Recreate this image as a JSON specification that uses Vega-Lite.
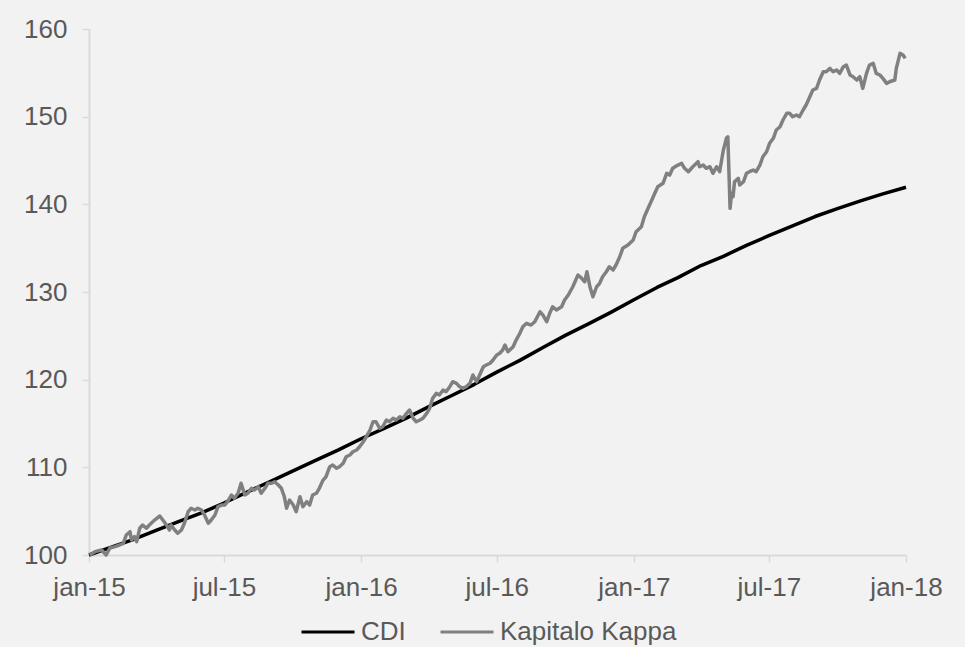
{
  "$schema": "https://vega.github.io/schema/vega-lite/v6.json",
  "autosize": {"type": "none"},
  "padding": {"left": 89, "top": 29, "right": 59, "bottom": 92},
  "width": 817,
  "height": 526,
  "background": "#f2f2f2",
  "config": {
    "view": {"stroke": null},
    "axis": {
      "grid": false,
      "domainColor": "#d9d9d9",
      "domainWidth": 2,
      "tickColor": "#d9d9d9",
      "tickWidth": 1.5,
      "tickSize": 7,
      "labelColor": "#595959",
      "labelFont": "Liberation Sans",
      "labelFontSize": 26,
      "title": null
    },
    "legend": {
      "labelColor": "#595959",
      "labelFont": "Liberation Sans",
      "labelFontSize": 26,
      "labelLimit": 400
    }
  },
  "data": {
    "values": [
      {"date": "2015-01-01", "series": "CDI", "value": 100.00},
      {"date": "2015-02-01", "series": "CDI", "value": 100.93},
      {"date": "2015-03-01", "series": "CDI", "value": 101.76},
      {"date": "2015-04-01", "series": "CDI", "value": 102.82},
      {"date": "2015-05-01", "series": "CDI", "value": 103.80},
      {"date": "2015-06-01", "series": "CDI", "value": 104.81},
      {"date": "2015-07-01", "series": "CDI", "value": 105.93},
      {"date": "2015-08-01", "series": "CDI", "value": 107.18},
      {"date": "2015-09-01", "series": "CDI", "value": 108.37},
      {"date": "2015-10-01", "series": "CDI", "value": 109.57},
      {"date": "2015-11-01", "series": "CDI", "value": 110.79},
      {"date": "2015-12-01", "series": "CDI", "value": 111.96},
      {"date": "2016-01-01", "series": "CDI", "value": 113.26},
      {"date": "2016-02-01", "series": "CDI", "value": 114.45},
      {"date": "2016-03-01", "series": "CDI", "value": 115.59},
      {"date": "2016-04-01", "series": "CDI", "value": 116.93},
      {"date": "2016-05-01", "series": "CDI", "value": 118.16},
      {"date": "2016-06-01", "series": "CDI", "value": 119.47},
      {"date": "2016-07-01", "series": "CDI", "value": 120.86},
      {"date": "2016-08-01", "series": "CDI", "value": 122.20},
      {"date": "2016-09-01", "series": "CDI", "value": 123.68},
      {"date": "2016-10-01", "series": "CDI", "value": 125.05},
      {"date": "2016-11-01", "series": "CDI", "value": 126.36},
      {"date": "2016-12-01", "series": "CDI", "value": 127.68},
      {"date": "2017-01-01", "series": "CDI", "value": 129.11},
      {"date": "2017-02-01", "series": "CDI", "value": 130.52},
      {"date": "2017-03-01", "series": "CDI", "value": 131.64},
      {"date": "2017-04-01", "series": "CDI", "value": 133.02},
      {"date": "2017-05-01", "series": "CDI", "value": 134.07},
      {"date": "2017-06-01", "series": "CDI", "value": 135.32},
      {"date": "2017-07-01", "series": "CDI", "value": 136.42},
      {"date": "2017-08-01", "series": "CDI", "value": 137.51},
      {"date": "2017-09-01", "series": "CDI", "value": 138.61},
      {"date": "2017-10-01", "series": "CDI", "value": 139.50},
      {"date": "2017-11-01", "series": "CDI", "value": 140.39},
      {"date": "2017-12-01", "series": "CDI", "value": 141.19},
      {"date": "2018-01-01", "series": "CDI", "value": 141.95},
      {"date": "2015-01-02", "series": "Kapitalo Kappa", "value": 100.00},
      {"date": "2015-01-09", "series": "Kapitalo Kappa", "value": 100.38},
      {"date": "2015-01-18", "series": "Kapitalo Kappa", "value": 100.57},
      {"date": "2015-01-24", "series": "Kapitalo Kappa", "value": 100.00},
      {"date": "2015-01-29", "series": "Kapitalo Kappa", "value": 100.80},
      {"date": "2015-02-05", "series": "Kapitalo Kappa", "value": 100.95},
      {"date": "2015-02-11", "series": "Kapitalo Kappa", "value": 101.14},
      {"date": "2015-02-16", "series": "Kapitalo Kappa", "value": 101.33},
      {"date": "2015-02-20", "series": "Kapitalo Kappa", "value": 102.28},
      {"date": "2015-02-25", "series": "Kapitalo Kappa", "value": 102.66},
      {"date": "2015-02-27", "series": "Kapitalo Kappa", "value": 101.71},
      {"date": "2015-03-03", "series": "Kapitalo Kappa", "value": 102.09},
      {"date": "2015-03-06", "series": "Kapitalo Kappa", "value": 101.52},
      {"date": "2015-03-10", "series": "Kapitalo Kappa", "value": 103.05},
      {"date": "2015-03-14", "series": "Kapitalo Kappa", "value": 103.42},
      {"date": "2015-03-19", "series": "Kapitalo Kappa", "value": 103.05},
      {"date": "2015-03-23", "series": "Kapitalo Kappa", "value": 103.42},
      {"date": "2015-03-30", "series": "Kapitalo Kappa", "value": 103.99},
      {"date": "2015-04-06", "series": "Kapitalo Kappa", "value": 104.45},
      {"date": "2015-04-10", "series": "Kapitalo Kappa", "value": 103.99},
      {"date": "2015-04-15", "series": "Kapitalo Kappa", "value": 103.42},
      {"date": "2015-04-19", "series": "Kapitalo Kappa", "value": 102.85},
      {"date": "2015-04-21", "series": "Kapitalo Kappa", "value": 103.42},
      {"date": "2015-04-26", "series": "Kapitalo Kappa", "value": 102.85},
      {"date": "2015-04-30", "series": "Kapitalo Kappa", "value": 102.48},
      {"date": "2015-05-05", "series": "Kapitalo Kappa", "value": 102.85},
      {"date": "2015-05-09", "series": "Kapitalo Kappa", "value": 103.62},
      {"date": "2015-05-14", "series": "Kapitalo Kappa", "value": 104.94},
      {"date": "2015-05-18", "series": "Kapitalo Kappa", "value": 105.33},
      {"date": "2015-05-23", "series": "Kapitalo Kappa", "value": 105.13},
      {"date": "2015-05-27", "series": "Kapitalo Kappa", "value": 105.33},
      {"date": "2015-06-01", "series": "Kapitalo Kappa", "value": 105.13},
      {"date": "2015-06-05", "series": "Kapitalo Kappa", "value": 104.56},
      {"date": "2015-06-10", "series": "Kapitalo Kappa", "value": 103.62},
      {"date": "2015-06-14", "series": "Kapitalo Kappa", "value": 103.99},
      {"date": "2015-06-19", "series": "Kapitalo Kappa", "value": 104.56},
      {"date": "2015-06-23", "series": "Kapitalo Kappa", "value": 105.51},
      {"date": "2015-06-28", "series": "Kapitalo Kappa", "value": 105.70},
      {"date": "2015-07-02", "series": "Kapitalo Kappa", "value": 105.70},
      {"date": "2015-07-06", "series": "Kapitalo Kappa", "value": 106.08},
      {"date": "2015-07-11", "series": "Kapitalo Kappa", "value": 106.84},
      {"date": "2015-07-15", "series": "Kapitalo Kappa", "value": 106.47},
      {"date": "2015-07-20", "series": "Kapitalo Kappa", "value": 107.04},
      {"date": "2015-07-24", "series": "Kapitalo Kappa", "value": 108.18},
      {"date": "2015-07-29", "series": "Kapitalo Kappa", "value": 106.84},
      {"date": "2015-08-02", "series": "Kapitalo Kappa", "value": 107.04},
      {"date": "2015-08-07", "series": "Kapitalo Kappa", "value": 107.61},
      {"date": "2015-08-11", "series": "Kapitalo Kappa", "value": 107.41},
      {"date": "2015-08-16", "series": "Kapitalo Kappa", "value": 107.79},
      {"date": "2015-08-20", "series": "Kapitalo Kappa", "value": 107.04},
      {"date": "2015-08-25", "series": "Kapitalo Kappa", "value": 107.61},
      {"date": "2015-08-29", "series": "Kapitalo Kappa", "value": 108.18},
      {"date": "2015-09-03", "series": "Kapitalo Kappa", "value": 108.18},
      {"date": "2015-09-07", "series": "Kapitalo Kappa", "value": 108.36},
      {"date": "2015-09-12", "series": "Kapitalo Kappa", "value": 107.98},
      {"date": "2015-09-16", "series": "Kapitalo Kappa", "value": 107.61},
      {"date": "2015-09-20", "series": "Kapitalo Kappa", "value": 106.65},
      {"date": "2015-09-23", "series": "Kapitalo Kappa", "value": 105.33},
      {"date": "2015-09-27", "series": "Kapitalo Kappa", "value": 106.27},
      {"date": "2015-10-02", "series": "Kapitalo Kappa", "value": 105.70},
      {"date": "2015-10-06", "series": "Kapitalo Kappa", "value": 104.94},
      {"date": "2015-10-11", "series": "Kapitalo Kappa", "value": 106.65},
      {"date": "2015-10-15", "series": "Kapitalo Kappa", "value": 105.51},
      {"date": "2015-10-20", "series": "Kapitalo Kappa", "value": 106.08},
      {"date": "2015-10-24", "series": "Kapitalo Kappa", "value": 105.70},
      {"date": "2015-10-28", "series": "Kapitalo Kappa", "value": 106.84},
      {"date": "2015-11-02", "series": "Kapitalo Kappa", "value": 107.04},
      {"date": "2015-11-06", "series": "Kapitalo Kappa", "value": 107.61},
      {"date": "2015-11-11", "series": "Kapitalo Kappa", "value": 108.55},
      {"date": "2015-11-15", "series": "Kapitalo Kappa", "value": 108.93},
      {"date": "2015-11-20", "series": "Kapitalo Kappa", "value": 110.07},
      {"date": "2015-11-24", "series": "Kapitalo Kappa", "value": 110.27},
      {"date": "2015-11-29", "series": "Kapitalo Kappa", "value": 109.89},
      {"date": "2015-12-03", "series": "Kapitalo Kappa", "value": 110.07},
      {"date": "2015-12-08", "series": "Kapitalo Kappa", "value": 110.46},
      {"date": "2015-12-12", "series": "Kapitalo Kappa", "value": 111.21},
      {"date": "2015-12-17", "series": "Kapitalo Kappa", "value": 111.41},
      {"date": "2015-12-21", "series": "Kapitalo Kappa", "value": 111.78},
      {"date": "2015-12-26", "series": "Kapitalo Kappa", "value": 111.98},
      {"date": "2015-12-30", "series": "Kapitalo Kappa", "value": 112.35},
      {"date": "2016-01-04", "series": "Kapitalo Kappa", "value": 112.92},
      {"date": "2016-01-08", "series": "Kapitalo Kappa", "value": 113.49},
      {"date": "2016-01-13", "series": "Kapitalo Kappa", "value": 114.26},
      {"date": "2016-01-17", "series": "Kapitalo Kappa", "value": 115.20},
      {"date": "2016-01-21", "series": "Kapitalo Kappa", "value": 115.20},
      {"date": "2016-01-26", "series": "Kapitalo Kappa", "value": 114.45},
      {"date": "2016-01-30", "series": "Kapitalo Kappa", "value": 114.63},
      {"date": "2016-02-04", "series": "Kapitalo Kappa", "value": 115.40},
      {"date": "2016-02-08", "series": "Kapitalo Kappa", "value": 115.20},
      {"date": "2016-02-13", "series": "Kapitalo Kappa", "value": 115.59},
      {"date": "2016-02-17", "series": "Kapitalo Kappa", "value": 115.40},
      {"date": "2016-02-22", "series": "Kapitalo Kappa", "value": 115.77},
      {"date": "2016-02-26", "series": "Kapitalo Kappa", "value": 115.59},
      {"date": "2016-03-02", "series": "Kapitalo Kappa", "value": 116.16},
      {"date": "2016-03-06", "series": "Kapitalo Kappa", "value": 116.54},
      {"date": "2016-03-11", "series": "Kapitalo Kappa", "value": 115.59},
      {"date": "2016-03-15", "series": "Kapitalo Kappa", "value": 115.20},
      {"date": "2016-03-20", "series": "Kapitalo Kappa", "value": 115.40},
      {"date": "2016-03-24", "series": "Kapitalo Kappa", "value": 115.59},
      {"date": "2016-03-29", "series": "Kapitalo Kappa", "value": 116.16},
      {"date": "2016-04-02", "series": "Kapitalo Kappa", "value": 116.73},
      {"date": "2016-04-06", "series": "Kapitalo Kappa", "value": 117.87},
      {"date": "2016-04-11", "series": "Kapitalo Kappa", "value": 118.44},
      {"date": "2016-04-15", "series": "Kapitalo Kappa", "value": 118.25},
      {"date": "2016-04-20", "series": "Kapitalo Kappa", "value": 118.82},
      {"date": "2016-04-24", "series": "Kapitalo Kappa", "value": 118.63},
      {"date": "2016-04-29", "series": "Kapitalo Kappa", "value": 119.20},
      {"date": "2016-05-03", "series": "Kapitalo Kappa", "value": 119.77},
      {"date": "2016-05-08", "series": "Kapitalo Kappa", "value": 119.58},
      {"date": "2016-05-12", "series": "Kapitalo Kappa", "value": 119.20},
      {"date": "2016-05-17", "series": "Kapitalo Kappa", "value": 119.01},
      {"date": "2016-05-21", "series": "Kapitalo Kappa", "value": 119.20},
      {"date": "2016-05-26", "series": "Kapitalo Kappa", "value": 119.58},
      {"date": "2016-05-30", "series": "Kapitalo Kappa", "value": 120.53},
      {"date": "2016-06-04", "series": "Kapitalo Kappa", "value": 119.77},
      {"date": "2016-06-08", "series": "Kapitalo Kappa", "value": 120.53},
      {"date": "2016-06-13", "series": "Kapitalo Kappa", "value": 121.48},
      {"date": "2016-06-17", "series": "Kapitalo Kappa", "value": 121.67},
      {"date": "2016-06-22", "series": "Kapitalo Kappa", "value": 121.87},
      {"date": "2016-06-26", "series": "Kapitalo Kappa", "value": 122.24},
      {"date": "2016-07-01", "series": "Kapitalo Kappa", "value": 122.81},
      {"date": "2016-07-05", "series": "Kapitalo Kappa", "value": 123.01},
      {"date": "2016-07-09", "series": "Kapitalo Kappa", "value": 123.38},
      {"date": "2016-07-12", "series": "Kapitalo Kappa", "value": 123.95},
      {"date": "2016-07-16", "series": "Kapitalo Kappa", "value": 123.19},
      {"date": "2016-07-23", "series": "Kapitalo Kappa", "value": 123.76},
      {"date": "2016-07-27", "series": "Kapitalo Kappa", "value": 124.52},
      {"date": "2016-08-01", "series": "Kapitalo Kappa", "value": 125.29},
      {"date": "2016-08-05", "series": "Kapitalo Kappa", "value": 126.04},
      {"date": "2016-08-10", "series": "Kapitalo Kappa", "value": 126.43},
      {"date": "2016-08-16", "series": "Kapitalo Kappa", "value": 126.23},
      {"date": "2016-08-21", "series": "Kapitalo Kappa", "value": 126.61},
      {"date": "2016-08-28", "series": "Kapitalo Kappa", "value": 127.75},
      {"date": "2016-09-01", "series": "Kapitalo Kappa", "value": 127.37},
      {"date": "2016-09-06", "series": "Kapitalo Kappa", "value": 126.61},
      {"date": "2016-09-10", "series": "Kapitalo Kappa", "value": 127.57},
      {"date": "2016-09-14", "series": "Kapitalo Kappa", "value": 128.32},
      {"date": "2016-09-19", "series": "Kapitalo Kappa", "value": 127.94},
      {"date": "2016-09-26", "series": "Kapitalo Kappa", "value": 128.32},
      {"date": "2016-09-30", "series": "Kapitalo Kappa", "value": 129.09},
      {"date": "2016-10-05", "series": "Kapitalo Kappa", "value": 129.66},
      {"date": "2016-10-11", "series": "Kapitalo Kappa", "value": 130.60},
      {"date": "2016-10-18", "series": "Kapitalo Kappa", "value": 131.94},
      {"date": "2016-10-23", "series": "Kapitalo Kappa", "value": 131.56},
      {"date": "2016-10-27", "series": "Kapitalo Kappa", "value": 131.17},
      {"date": "2016-10-30", "series": "Kapitalo Kappa", "value": 132.31},
      {"date": "2016-11-03", "series": "Kapitalo Kappa", "value": 130.60},
      {"date": "2016-11-07", "series": "Kapitalo Kappa", "value": 129.46},
      {"date": "2016-11-12", "series": "Kapitalo Kappa", "value": 130.60},
      {"date": "2016-11-16", "series": "Kapitalo Kappa", "value": 130.99},
      {"date": "2016-11-20", "series": "Kapitalo Kappa", "value": 131.74},
      {"date": "2016-11-25", "series": "Kapitalo Kappa", "value": 132.31},
      {"date": "2016-11-29", "series": "Kapitalo Kappa", "value": 132.88},
      {"date": "2016-12-04", "series": "Kapitalo Kappa", "value": 132.51},
      {"date": "2016-12-08", "series": "Kapitalo Kappa", "value": 133.08},
      {"date": "2016-12-13", "series": "Kapitalo Kappa", "value": 134.02},
      {"date": "2016-12-17", "series": "Kapitalo Kappa", "value": 134.98},
      {"date": "2016-12-24", "series": "Kapitalo Kappa", "value": 135.36},
      {"date": "2016-12-31", "series": "Kapitalo Kappa", "value": 135.93},
      {"date": "2017-01-04", "series": "Kapitalo Kappa", "value": 136.88},
      {"date": "2017-01-11", "series": "Kapitalo Kappa", "value": 137.45},
      {"date": "2017-01-15", "series": "Kapitalo Kappa", "value": 138.59},
      {"date": "2017-01-20", "series": "Kapitalo Kappa", "value": 139.55},
      {"date": "2017-01-24", "series": "Kapitalo Kappa", "value": 140.30},
      {"date": "2017-01-29", "series": "Kapitalo Kappa", "value": 141.26},
      {"date": "2017-02-02", "series": "Kapitalo Kappa", "value": 142.01},
      {"date": "2017-02-09", "series": "Kapitalo Kappa", "value": 142.40},
      {"date": "2017-02-14", "series": "Kapitalo Kappa", "value": 143.54},
      {"date": "2017-02-18", "series": "Kapitalo Kappa", "value": 143.34},
      {"date": "2017-02-22", "series": "Kapitalo Kappa", "value": 144.11},
      {"date": "2017-03-01", "series": "Kapitalo Kappa", "value": 144.48},
      {"date": "2017-03-06", "series": "Kapitalo Kappa", "value": 144.68},
      {"date": "2017-03-10", "series": "Kapitalo Kappa", "value": 144.11},
      {"date": "2017-03-15", "series": "Kapitalo Kappa", "value": 143.72},
      {"date": "2017-03-21", "series": "Kapitalo Kappa", "value": 144.29},
      {"date": "2017-03-28", "series": "Kapitalo Kappa", "value": 144.86},
      {"date": "2017-03-30", "series": "Kapitalo Kappa", "value": 144.29},
      {"date": "2017-04-04", "series": "Kapitalo Kappa", "value": 144.48},
      {"date": "2017-04-08", "series": "Kapitalo Kappa", "value": 144.11},
      {"date": "2017-04-13", "series": "Kapitalo Kappa", "value": 144.29},
      {"date": "2017-04-17", "series": "Kapitalo Kappa", "value": 143.54},
      {"date": "2017-04-22", "series": "Kapitalo Kappa", "value": 144.29},
      {"date": "2017-04-26", "series": "Kapitalo Kappa", "value": 143.72},
      {"date": "2017-05-01", "series": "Kapitalo Kappa", "value": 146.19},
      {"date": "2017-05-05", "series": "Kapitalo Kappa", "value": 147.53},
      {"date": "2017-05-07", "series": "Kapitalo Kappa", "value": 147.71},
      {"date": "2017-05-10", "series": "Kapitalo Kappa", "value": 139.54},
      {"date": "2017-05-12", "series": "Kapitalo Kappa", "value": 141.26},
      {"date": "2017-05-14", "series": "Kapitalo Kappa", "value": 140.87},
      {"date": "2017-05-16", "series": "Kapitalo Kappa", "value": 142.58},
      {"date": "2017-05-21", "series": "Kapitalo Kappa", "value": 142.97},
      {"date": "2017-05-23", "series": "Kapitalo Kappa", "value": 142.20},
      {"date": "2017-05-28", "series": "Kapitalo Kappa", "value": 142.58},
      {"date": "2017-06-01", "series": "Kapitalo Kappa", "value": 143.54},
      {"date": "2017-06-05", "series": "Kapitalo Kappa", "value": 143.72},
      {"date": "2017-06-10", "series": "Kapitalo Kappa", "value": 143.91},
      {"date": "2017-06-14", "series": "Kapitalo Kappa", "value": 143.72},
      {"date": "2017-06-19", "series": "Kapitalo Kappa", "value": 144.48},
      {"date": "2017-06-23", "series": "Kapitalo Kappa", "value": 145.43},
      {"date": "2017-06-28", "series": "Kapitalo Kappa", "value": 146.00},
      {"date": "2017-07-02", "series": "Kapitalo Kappa", "value": 146.96},
      {"date": "2017-07-07", "series": "Kapitalo Kappa", "value": 147.53},
      {"date": "2017-07-11", "series": "Kapitalo Kappa", "value": 148.48},
      {"date": "2017-07-16", "series": "Kapitalo Kappa", "value": 148.85},
      {"date": "2017-07-20", "series": "Kapitalo Kappa", "value": 149.62},
      {"date": "2017-07-25", "series": "Kapitalo Kappa", "value": 150.38},
      {"date": "2017-07-29", "series": "Kapitalo Kappa", "value": 150.38},
      {"date": "2017-08-02", "series": "Kapitalo Kappa", "value": 149.99},
      {"date": "2017-08-07", "series": "Kapitalo Kappa", "value": 150.19},
      {"date": "2017-08-11", "series": "Kapitalo Kappa", "value": 149.99},
      {"date": "2017-08-16", "series": "Kapitalo Kappa", "value": 150.76},
      {"date": "2017-08-20", "series": "Kapitalo Kappa", "value": 151.33},
      {"date": "2017-08-25", "series": "Kapitalo Kappa", "value": 152.27},
      {"date": "2017-08-29", "series": "Kapitalo Kappa", "value": 153.04},
      {"date": "2017-09-03", "series": "Kapitalo Kappa", "value": 153.23},
      {"date": "2017-09-07", "series": "Kapitalo Kappa", "value": 154.18},
      {"date": "2017-09-12", "series": "Kapitalo Kappa", "value": 155.13},
      {"date": "2017-09-16", "series": "Kapitalo Kappa", "value": 155.13},
      {"date": "2017-09-21", "series": "Kapitalo Kappa", "value": 155.51},
      {"date": "2017-09-25", "series": "Kapitalo Kappa", "value": 155.13},
      {"date": "2017-09-30", "series": "Kapitalo Kappa", "value": 155.32},
      {"date": "2017-10-04", "series": "Kapitalo Kappa", "value": 154.94},
      {"date": "2017-10-09", "series": "Kapitalo Kappa", "value": 155.70},
      {"date": "2017-10-13", "series": "Kapitalo Kappa", "value": 155.89},
      {"date": "2017-10-18", "series": "Kapitalo Kappa", "value": 154.75},
      {"date": "2017-10-22", "series": "Kapitalo Kappa", "value": 154.56},
      {"date": "2017-10-27", "series": "Kapitalo Kappa", "value": 154.18},
      {"date": "2017-10-31", "series": "Kapitalo Kappa", "value": 154.56},
      {"date": "2017-11-04", "series": "Kapitalo Kappa", "value": 153.23},
      {"date": "2017-11-09", "series": "Kapitalo Kappa", "value": 154.94},
      {"date": "2017-11-13", "series": "Kapitalo Kappa", "value": 155.89},
      {"date": "2017-11-18", "series": "Kapitalo Kappa", "value": 156.08},
      {"date": "2017-11-22", "series": "Kapitalo Kappa", "value": 154.94},
      {"date": "2017-11-27", "series": "Kapitalo Kappa", "value": 154.75},
      {"date": "2017-12-01", "series": "Kapitalo Kappa", "value": 154.37},
      {"date": "2017-12-06", "series": "Kapitalo Kappa", "value": 153.80},
      {"date": "2017-12-10", "series": "Kapitalo Kappa", "value": 153.98},
      {"date": "2017-12-17", "series": "Kapitalo Kappa", "value": 154.18},
      {"date": "2017-12-19", "series": "Kapitalo Kappa", "value": 155.51},
      {"date": "2017-12-24", "series": "Kapitalo Kappa", "value": 157.22},
      {"date": "2017-12-28", "series": "Kapitalo Kappa", "value": 157.03},
      {"date": "2017-12-31", "series": "Kapitalo Kappa", "value": 156.65}
    ]
  },
  "mark": {"type": "line", "strokeWidth": 3.5, "strokeJoin": "round"},
  "encoding": {
    "x": {
      "field": "date",
      "type": "temporal",
      "scale": {"domain": [{"year": 2015, "month": 1, "date": 1}, {"year": 2018, "month": 1, "date": 1}]},
      "axis": {
        "values": [
          {"year": 2015, "month": 1, "date": 1},
          {"year": 2015, "month": 7, "date": 1},
          {"year": 2016, "month": 1, "date": 1},
          {"year": 2016, "month": 7, "date": 1},
          {"year": 2017, "month": 1, "date": 1},
          {"year": 2017, "month": 7, "date": 1},
          {"year": 2018, "month": 1, "date": 1}
        ],
        "labelExpr": "lower(timeFormat(datum.value, '%b-%y'))",
        "labelPadding": 12,
        "labelFlush": false,
        "labelOverlap": false
      }
    },
    "y": {
      "field": "value",
      "type": "quantitative",
      "scale": {"domain": [100, 160], "zero": false, "nice": false},
      "axis": {"values": [100, 110, 120, 130, 140, 150, 160], "labelPadding": 15}
    },
    "color": {
      "field": "series",
      "type": "nominal",
      "scale": {"domain": ["CDI", "Kapitalo Kappa"], "range": ["#000000", "#808080"]},
      "legend": {
        "title": null,
        "orient": "none",
        "direction": "horizontal",
        "legendX": 211,
        "legendY": 575,
        "symbolType": "stroke",
        "symbolSize": 2809,
        "symbolStrokeWidth": 3,
        "labelOffset": 5,
        "labelLimit": 400,
        "columnPadding": 28,
        "padding": 0
      }
    }
  }
}
